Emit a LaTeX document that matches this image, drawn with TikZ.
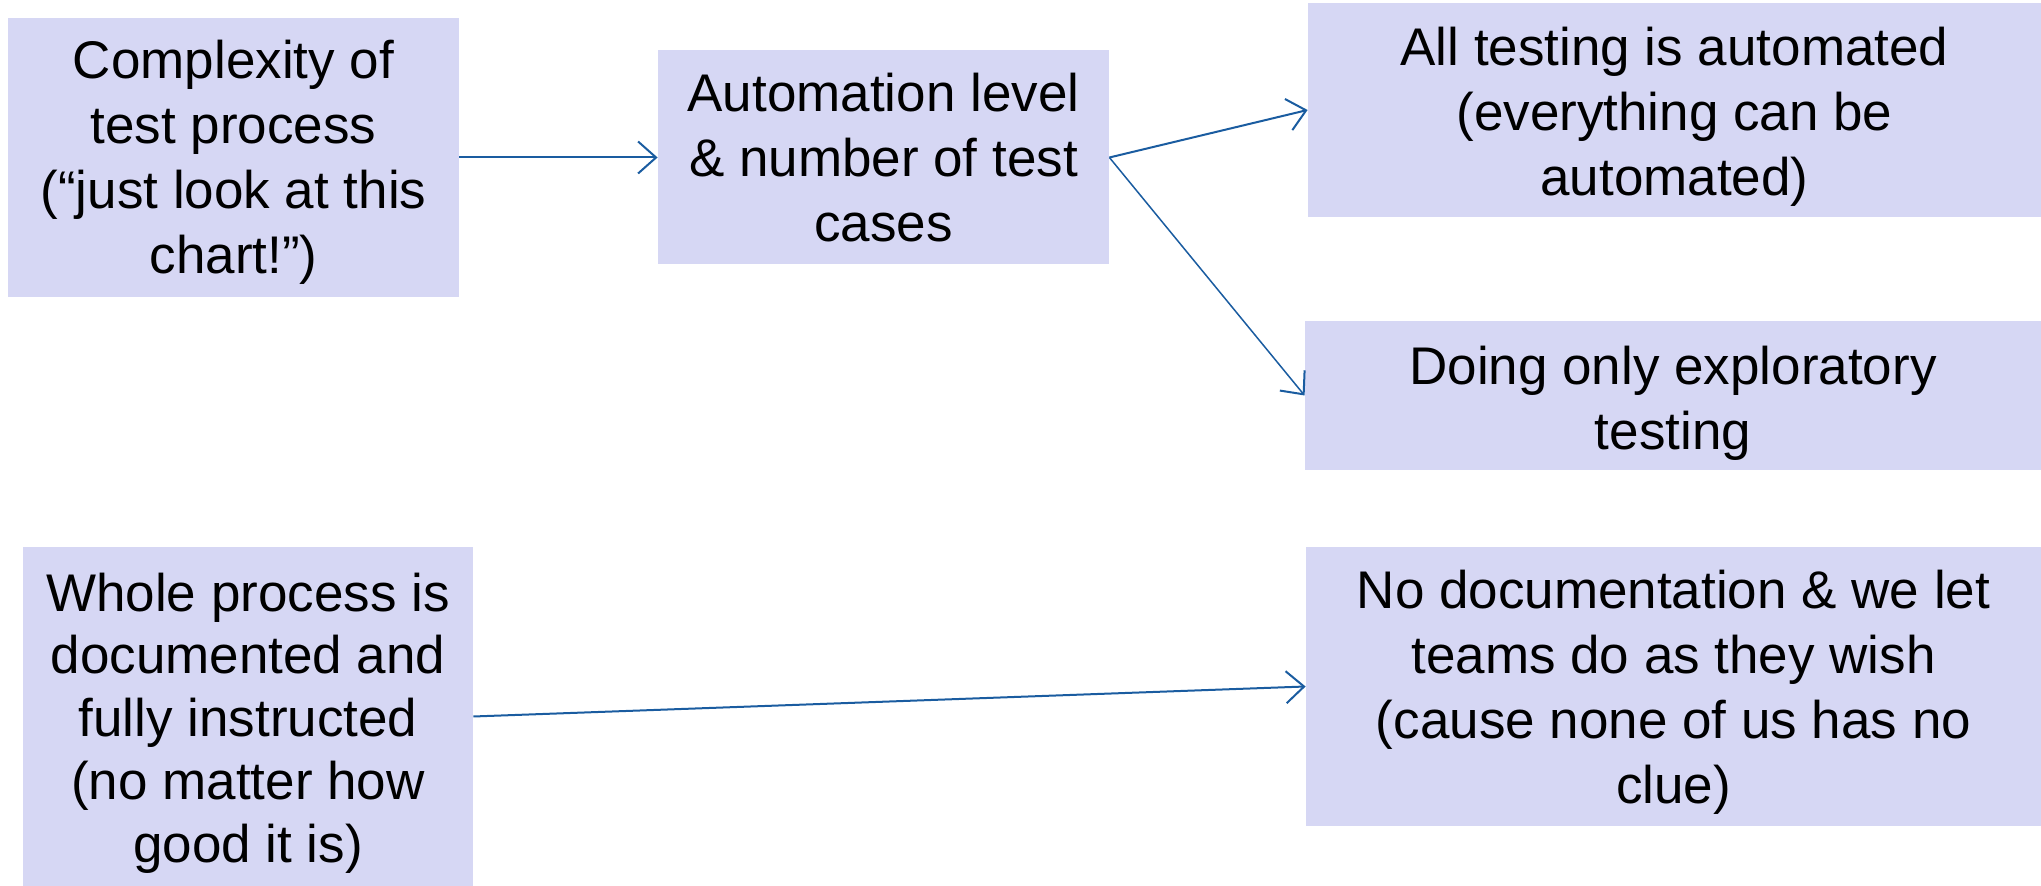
\documentclass[tikz,border=0pt]{standalone}
\usepackage{fontspec}
\setmainfont{Liberation Sans}
\usetikzlibrary{arrows.meta}
\definecolor{boxfill}{HTML}{D6D7F4}
\definecolor{linkblue}{HTML}{1A5CA0}
\begin{document}
\begin{tikzpicture}[x=0.5pt,y=-0.5pt,
  box/.style={fill=boxfill,draw=none,inner sep=0pt},
  boxtext/.style={inner sep=0pt,align=center,
    font=\fontsize{26.5}{32.5}\selectfont},
  link/.style={draw=linkblue,line width=1pt,-{Straight Barb[length=9pt,width=16pt,line width=1pt]}},
  thinlink/.style={link,line width=0.75pt}]
\useasboundingbox (0,0) rectangle (2041,886);
\node[box,minimum width=225.5pt,minimum height=139.5pt] (b1) at (233.5,157.5) {};
\node[boxtext,yshift=-2.5pt] (t1) at (b1.center)
  {Complexity of\\test process\\(“just look at this\\chart!”)};
\node[box,minimum width=225.5pt,minimum height=107pt] (b2) at (883.5,157.5) {};
\node[boxtext] (t2) at (b2.center)
  {Automation level\\\& number of test\\cases};
\node[box,minimum width=366.5pt,minimum height=107pt] (b3) at (1674.5,110) {};
\node[boxtext,yshift=-3.25pt] (t3) at (b3.center)
  {All testing is automated\\(everything can be\\automated)};
\node[box,minimum width=368pt,minimum height=74.5pt] (b4) at (1673,395.5) {};
\node[boxtext,yshift=-3.9pt] (t4) at (b4.center)
  {Doing only exploratory\\testing};
\node[box,minimum width=225pt,minimum height=169.5pt] (b5) at (248,716.5) {};
\node[boxtext,font=\fontsize{26.5}{31.4}\selectfont,yshift=-3.25pt] (t5) at (b5.center)
  {Whole process is\\documented and\\fully instructed\\(no matter how\\good it is)};
\node[box,minimum width=367.5pt,minimum height=139.5pt] (b6) at (1673.5,686.5) {};
\node[boxtext,yshift=-3pt] (t6) at (b6.center)
  {No documentation \& we let\\teams do as they wish\\(cause none of us has no\\clue)};
\draw[link] (b1.east) -- (b2.west);
\draw[link] (b2.east) -- (b3.west);
\draw[thinlink] (b2.east) -- (b4.west);
\draw[link] (b5.east) -- (b6.west);
\end{tikzpicture}
\end{document}
